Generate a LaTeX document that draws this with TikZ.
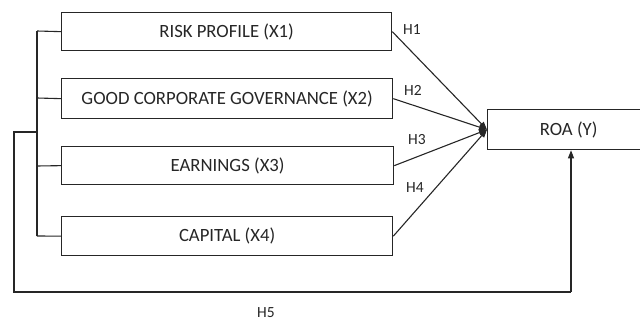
\documentclass[tikz,border=0pt]{standalone}
\usepackage{fontspec}
\setmainfont{Carlito}
\usetikzlibrary{arrows.meta}
\tikzset{
  varbox/.style={draw=black!85, line width=1.3pt, minimum height=38pt, inner sep=0pt,
    font=\fontsize{18.7}{22}\selectfont, text=black!85},
  conn/.style={draw=black!85, line width=1.1pt},
  harrow/.style={conn, -{Triangle[length=8pt,width=6pt]}},
  hlabel/.style={font=\fontsize{15.5}{18}\selectfont, text=black!85, inner sep=0pt}
}
\begin{document}
\begin{tikzpicture}[x=1pt,y=-1pt]
\useasboundingbox (0,0) rectangle (640,320);
\clip (0,0) rectangle (640,320);
\node[varbox, minimum width=330pt, anchor=north west] (rp) at (61,12) {RISK PROFILE (X1)};
\node[varbox, minimum width=331pt, minimum height=40pt, anchor=north west] (gcg) at (61,78) {GOOD CORPORATE GOVERNANCE (X2)};
\node[varbox, minimum width=332pt, anchor=north west] (earn) at (61,146) {EARNINGS (X3)};
\node[varbox, minimum width=331pt, minimum height=39pt, anchor=north west] (cap) at (61,216) {CAPITAL (X4)};
\node[varbox, minimum width=162pt, minimum height=40pt, anchor=north west] (roa) at (487,109) {ROA (Y)};
% bus on the left
\coordinate (bt) at (37,31);
\coordinate (bb) at (37,236);
\coordinate (bj) at (37,132);
\coordinate (oj) at (14,132);
\coordinate (ol) at (14,292);
\coordinate (or) at (571,292);
\draw[conn] (bt) -- (bb);
\draw[conn] (bt) -- (rp.west);
\draw[conn] (37,98) -- (gcg.west);
\draw[conn] (37,166) -- (earn.west);
\draw[conn] (bb) -- (cap.west);
\draw[conn] (bj) -- (oj) -- (ol) -- (or);
\draw[harrow] (or) -- (roa.south -| or);
% hypothesis arrows
\draw[harrow] (rp.east) -- (roa.west);
\draw[harrow] (gcg.east) -- (roa.west);
\draw[harrow] (earn.east) -- (roa.west);
\draw[harrow] (cap.east) -- (roa.west);
\node[hlabel] (h1) at (412,30) {H1};
\node[hlabel] (h2) at (413,90) {H2};
\node[hlabel] (h3) at (417,140) {H3};
\node[hlabel] (h4) at (415,188) {H4};
\node[hlabel, anchor=base] (h5) at (266,317.5) {H5};
\end{tikzpicture}
\end{document}
